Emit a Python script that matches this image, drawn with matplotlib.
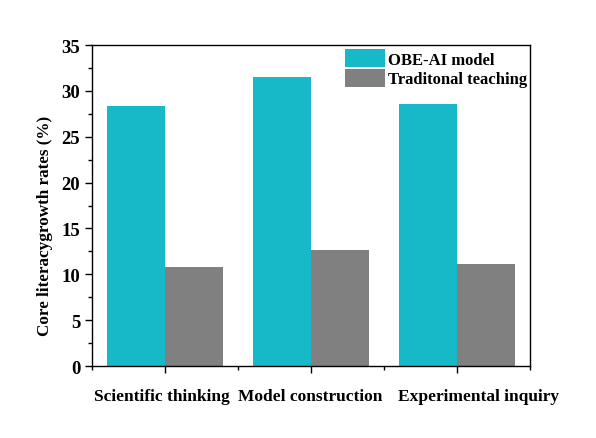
import numpy as np
import matplotlib.pyplot as plt
import matplotlib.transforms as mtransforms
from matplotlib.ticker import MultipleLocator

categories = ['Scientific thinking', 'Model construction', 'Experimental inquiry']
obe_ai = [28.3, 31.5, 28.6]
traditional = [10.8, 12.6, 11.1]

plt.rcParams['font.family'] = ['Liberation Serif', 'DejaVu Serif']
plt.rcParams['font.weight'] = 'bold'

fig = plt.figure(figsize=(5.96, 4.39), dpi=100)
ax = fig.add_axes([0.1544, 0.164, 0.7349, 0.7312])

x = np.arange(1, len(categories) + 1)
w = 0.4
ax.bar(x - w / 2, obe_ai, w, color='#17b8c7', label='OBE-AI model')
ax.bar(x + w / 2, traditional, w, color='#808080', label='Traditonal teaching')

ax.set_xlim(0.5, 3.5)
ax.set_ylim(0, 35)
ax.set_xticks(x)
ax.set_xticklabels(categories, fontweight='bold')
ax.set_xticks([0.5, 1.5, 2.5, 3.5], minor=True)
ax.yaxis.set_major_locator(MultipleLocator(5))
ax.yaxis.set_minor_locator(MultipleLocator(2.5))
ax.tick_params(axis='both', which='major', direction='out', length=5, width=1, labelsize=13.5)
ax.tick_params(axis='both', which='minor', direction='out', length=3, width=1)
ax.tick_params(axis='x', labelsize=12.5, pad=11)
for lab in ax.get_yticklabels():
    lab.set_fontweight('bold')

# nudge the x labels sideways so they do not run into each other
shifts = [-3, -1, 22]
for lab, dx in zip(ax.get_xticklabels(), shifts):
    lab.set_transform(lab.get_transform() +
                      mtransforms.ScaledTranslation(dx / 100, 0, fig.dpi_scale_trans))

ax.set_ylabel('Core literacygrowth rates (%)', fontsize=12.3, fontweight='bold', labelpad=6)
ax.yaxis.label.set_y(0.44)
for s in ax.spines.values():
    s.set_linewidth(1)

ax.legend(loc='upper left', bbox_to_anchor=(345 / 596, 1 - 50 / 439),
          bbox_transform=fig.transFigure, frameon=False, fontsize=12,
          handlelength=2.4, handleheight=1.3, borderpad=0, borderaxespad=0,
          labelspacing=0.05, handletextpad=0.2)

fig.savefig('out.png', dpi=100)
